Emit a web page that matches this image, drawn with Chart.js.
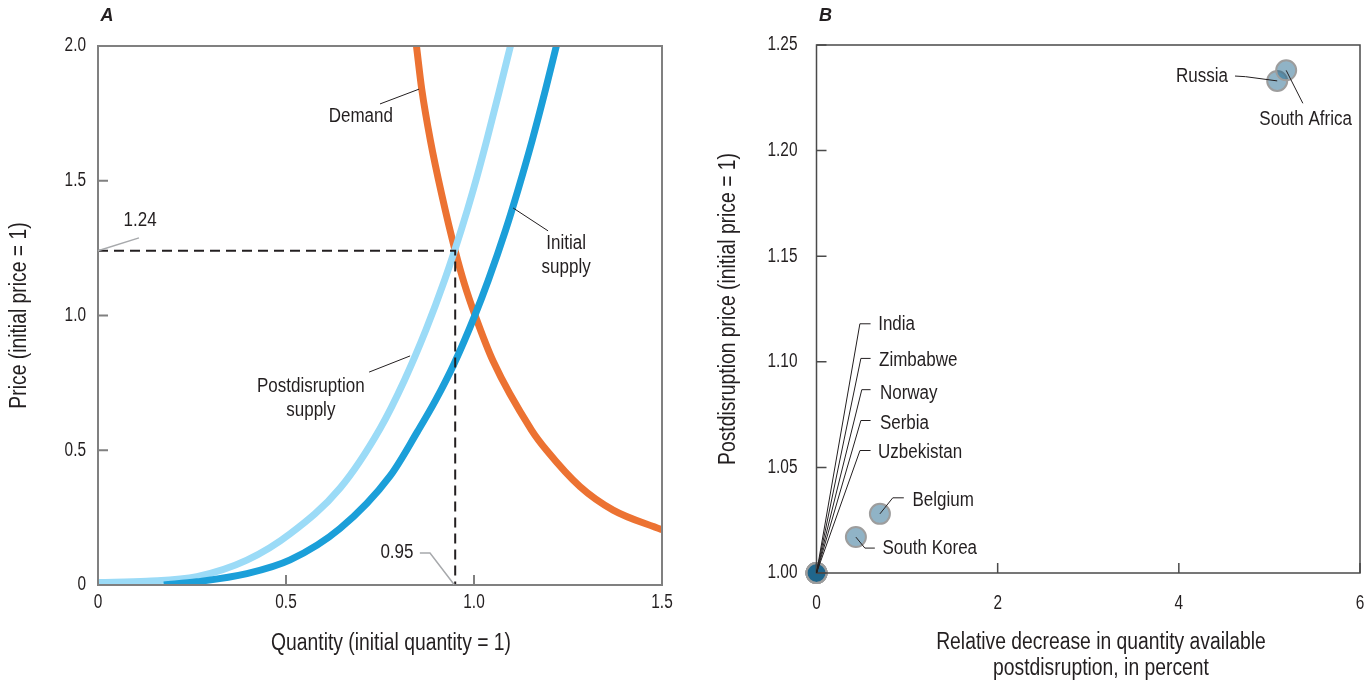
<!DOCTYPE html>
<html>
<head>
<meta charset="utf-8">
<script src="https://cdn.jsdelivr.net/npm/chart.js@4.4.1/dist/chart.umd.min.js"></script>
<style>
  html, body { margin: 0; padding: 0; background: #fff; }
  #wrap { position: relative; width: 1372px; height: 684px; }
  .panel { position: absolute; top: 0; width: 686px; height: 684px; }
  #panelA { left: 0; }
  #panelB { left: 686px; }
</style>
</head>
<body>
<div id="wrap">
  <div class="panel" id="panelA"><canvas id="chartA"></canvas></div>
  <div class="panel" id="panelB"><canvas id="chartB"></canvas></div>
</div>
<script>
// Panel A: curves (quantity, price)
const demandQty = [0.847, 0.861, 0.884, 0.914, 0.95, 0.975, 1.003, 1.051, 1.153, 1.193, 1.282, 1.37, 1.5];
const demandPrice = [2.0, 1.84, 1.65, 1.45, 1.24, 1.115, 1.0, 0.83, 0.575, 0.50, 0.365, 0.278, 0.205];
const initialQty = [0.175, 0.263, 0.396, 0.511, 0.644, 0.777, 0.85, 0.898, 0.948, 1.001, 1.038, 1.084, 1.117, 1.155, 1.19, 1.219];
const initialPrice = [0.0, 0.012, 0.042, 0.093, 0.21, 0.405, 0.57, 0.686, 0.824, 0.996, 1.131, 1.317, 1.466, 1.651, 1.837, 2.0];
const postQty = [0, 0.13, 0.263, 0.396, 0.511, 0.644, 0.75, 0.815, 0.872, 0.922, 0.966, 0.998, 1.034, 1.068, 1.097];
const postPrice = [0.009, 0.014, 0.031, 0.092, 0.19, 0.36, 0.58, 0.76, 0.946, 1.132, 1.317, 1.466, 1.651, 1.837, 2.0];
const equilibriumQty = [0, 0.95, 0.95];
const equilibriumPrice = [1.24, 1.24, 0];
const ticksAx = ['0', '0.5', '1.0', '1.5'];
const ticksAy = ['0', '0.5', '1.0', '1.5', '2.0'];

// Panel B: one circle per country
const countries = ['India', 'Zimbabwe', 'Norway', 'Serbia', 'Uzbekistan', 'South Korea', 'Belgium', 'Russia', 'South Africa'];
const qtyDecrease = [0, 0, 0, 0, 0, 0.435, 0.70, 5.086, 5.185];
const priceAfter = [1.0, 1.0, 1.0, 1.0, 1.0, 1.017, 1.028, 1.233, 1.238];
const ticksBx = ['0', '2', '4', '6'];
const ticksBy = ['1.00', '1.05', '1.10', '1.15', '1.20', '1.25'];

const pts = (xs, ys) => xs.map((x, i) => ({ x, y: ys[i] }));

const FONT = '"Liberation Sans", Arial, sans-serif';
const INK = '#231f20';

Chart.defaults.font.family = FONT;
Chart.defaults.color = INK;
Chart.defaults.animation = false;

// condensed look: squeeze the text horizontally
const drawText = (ctx, text, x, y, size, align, sx, rot = 0, style = '') => {
  ctx.save();
  ctx.font = `${style}${size}px ${FONT}`;
  ctx.fillStyle = INK;
  ctx.textAlign = align;
  ctx.textBaseline = 'middle';
  ctx.translate(x, y);
  if (rot) ctx.rotate(rot);
  ctx.scale(sx, 1);
  ctx.fillText(text, 0, 0);
  ctx.restore();
};

// text + leader lines, anchored in data units
const drawNotes = (chart, notes) => {
  const { ctx, scales: { x, y } } = chart;
  const px = p => [x.getPixelForValue(p[0]), y.getPixelForValue(p[1])];
  notes.forEach(n => {
    if (n.leader) {
      ctx.save();
      ctx.beginPath();
      ctx.strokeStyle = n.leaderColor || INK;
      ctx.lineWidth = n.leaderWidth || 1;
      n.leader.forEach((p, i) => {
        const [a, b] = px(p);
        if (i) ctx.lineTo(a, b); else ctx.moveTo(a, b);
      });
      ctx.stroke();
      ctx.restore();
    }
    const [tx, ty] = px(n.at);
    n.text.forEach((t, i) => drawText(ctx, t, tx, ty + i * 24, 20, n.align || 'left', 0.85));
  });
};

const drawFrame = (chart, color, width, tickLen, xLabels, yLabels, xGap, yGap) => {
  const { ctx, chartArea: a, scales: { x, y } } = chart;
  ctx.save();
  ctx.strokeStyle = color;
  ctx.lineWidth = width;
  ctx.beginPath();
  x.ticks.forEach(t => {
    const p = x.getPixelForValue(t.value);
    ctx.moveTo(p, a.bottom);
    ctx.lineTo(p, a.bottom - tickLen);
  });
  y.ticks.forEach(t => {
    const p = y.getPixelForValue(t.value);
    ctx.moveTo(a.left, p);
    ctx.lineTo(a.left + tickLen, p);
  });
  ctx.stroke();
  ctx.strokeRect(a.left, a.top, a.right - a.left, a.bottom - a.top);
  ctx.restore();
  x.ticks.forEach((t, i) => drawText(ctx, xLabels[i], x.getPixelForValue(t.value), a.bottom + xGap, 19.5, 'center', 0.79));
  y.ticks.forEach((t, i) => drawText(ctx, yLabels[i], a.left - yGap, y.getPixelForValue(t.value), 19.5, 'right', 0.79));
};

const drawTitles = (chart, letter, xTitle, xCenter, xTitleY, yTitle, yTitleX) => {
  const { ctx, chartArea: a } = chart;
  drawText(ctx, letter, a.left + 9, 16, 19, 'center', 0.95, 0, 'italic bold ');
  xTitle.forEach((t, i) => drawText(ctx, t, xCenter, xTitleY + i * 26, 23, 'center', 0.84));
  drawText(ctx, yTitle, yTitleX, (a.top + a.bottom) / 2, 23, 'center', 0.84, -Math.PI / 2);
};

const notesA = [
  { text: ['Demand'], at: [0.699, 1.74], align: 'center', leader: [[0.75, 1.785], [0.854, 1.84]] },
  { text: ['Initial', 'supply'], at: [1.245, 1.269], align: 'center', leader: [[1.104, 1.399], [1.197, 1.314]] },
  { text: ['Postdisruption', 'supply'], at: [0.566, 0.738], align: 'center', leader: [[0.721, 0.79], [0.83, 0.85]] },
  { text: ['1.24'], at: [0.112, 1.351], align: 'center', leader: [[0, 1.24], [0.109, 1.288]], leaderColor: '#a7a9ac', leaderWidth: 1.5 },
  { text: ['0.95'], at: [0.795, 0.119], align: 'center', leader: [[0.856, 0.119], [0.883, 0.119], [0.947, 0.002]], leaderColor: '#a7a9ac', leaderWidth: 1.5 }
];

const notesB = [
  { text: ['India'], at: [0.681, 1.1175], leader: [[0, 1.0], [0.479, 1.118], [0.597, 1.118]] },
  { text: ['Zimbabwe'], at: [0.69, 1.1005], leader: [[0, 1.0], [0.49, 1.1016], [0.597, 1.1016]] },
  { text: ['Norway'], at: [0.70, 1.0852], leader: [[0, 1.0], [0.50, 1.0868], [0.597, 1.0868]] },
  { text: ['Serbia'], at: [0.70, 1.071], leader: [[0, 1.0], [0.49, 1.0722], [0.597, 1.0722]] },
  { text: ['Uzbekistan'], at: [0.68, 1.057], leader: [[0, 1.0], [0.48, 1.058], [0.597, 1.058]] },
  { text: ['Belgium'], at: [1.059, 1.0344], leader: [[0.70, 1.028], [0.842, 1.0356], [0.964, 1.0356]] },
  { text: ['South Korea'], at: [0.729, 1.0118], leader: [[0.435, 1.017], [0.534, 1.0118], [0.644, 1.0118]] },
  { text: ['Russia'], at: [4.543, 1.2353], align: 'right', leader: [[4.62, 1.2353], [4.737, 1.235], [5.086, 1.233]] },
  { text: ['South Africa'], at: [5.40, 1.2145], align: 'center', leader: [[5.185, 1.238], [5.369, 1.2224]] }
];

const hiddenScale = (min, max, step, fit) => ({
  type: 'linear', min, max,
  grid: { display: false, drawTicks: false }, border: { display: false },
  ticks: { stepSize: step, display: false },
  afterFit: fit
});

const chartA = new Chart(document.getElementById('chartA'), {
  type: 'scatter',
  data: {
    datasets: [
      { label: 'Equilibrium', data: pts(equilibriumQty, equilibriumPrice), showLine: true, borderColor: INK, borderWidth: 2, borderDash: [10, 6], pointRadius: 0, order: 0 },
      { label: 'Initial supply', data: pts(initialQty, initialPrice), showLine: true, borderColor: '#1b9fd9', borderWidth: 7, pointRadius: 0, cubicInterpolationMode: 'monotone', order: 1 },
      { label: 'Postdisruption supply', data: pts(postQty, postPrice), showLine: true, borderColor: '#9bdbf7', borderWidth: 7, pointRadius: 0, cubicInterpolationMode: 'monotone', order: 2 },
      { label: 'Demand', data: pts(demandQty, demandPrice), showLine: true, borderColor: '#ec7232', borderWidth: 7, pointRadius: 0, cubicInterpolationMode: 'monotone', order: 3 }
    ]
  },
  options: {
    responsive: true,
    maintainAspectRatio: false,
    devicePixelRatio: 1,
    layout: { padding: { top: 46, left: 0, right: 24, bottom: 0 } },
    plugins: { legend: { display: false }, tooltip: { enabled: false } },
    scales: {
      x: hiddenScale(0, 1.5, 0.5, s => { s.height = 99; }),
      y: hiddenScale(0, 2, 0.5, s => { s.width = 98; })
    }
  },
  plugins: [{
    id: 'decorA',
    afterDatasetsDraw: chart => {
      drawFrame(chart, '#808080', 2, 10, ticksAx, ticksAy, 18, 12);
      drawNotes(chart, notesA);
      drawTitles(chart, 'A', ['Quantity (initial quantity = 1)'], 391, 644, 'Price (initial price = 1)', 20);
    }
  }]
});

const chartB = new Chart(document.getElementById('chartB'), {
  type: 'scatter',
  data: {
    labels: countries,
    datasets: [{
      label: 'Countries',
      data: pts(qtyDecrease, priceAfter),
      backgroundColor: 'rgba(22, 96, 136, 0.48)',
      borderColor: '#9d9d9d',
      borderWidth: 2,
      pointRadius: 10,
      clip: false
    }]
  },
  options: {
    responsive: true,
    maintainAspectRatio: false,
    devicePixelRatio: 1,
    layout: { padding: { top: 45, left: 0, right: 11, bottom: 0 } },
    plugins: { legend: { display: false }, tooltip: { enabled: false } },
    scales: {
      x: hiddenScale(0, 6, 2, s => { s.height = 111; }),
      y: hiddenScale(1.0, 1.25, 0.05, s => { s.width = 130.5; })
    }
  },
  plugins: [{
    id: 'decorB',
    afterDatasetsDraw: chart => {
      drawFrame(chart, '#4a4a4a', 1.5, 10, ticksBx, ticksBy, 31, 19);
      drawNotes(chart, notesB);
      drawTitles(chart, 'B', ['Relative decrease in quantity available', 'postdisruption, in percent'], 415, 643, 'Postdisruption price (initial price = 1)', 43);
    }
  }]
});
</script>
</body>
</html>
